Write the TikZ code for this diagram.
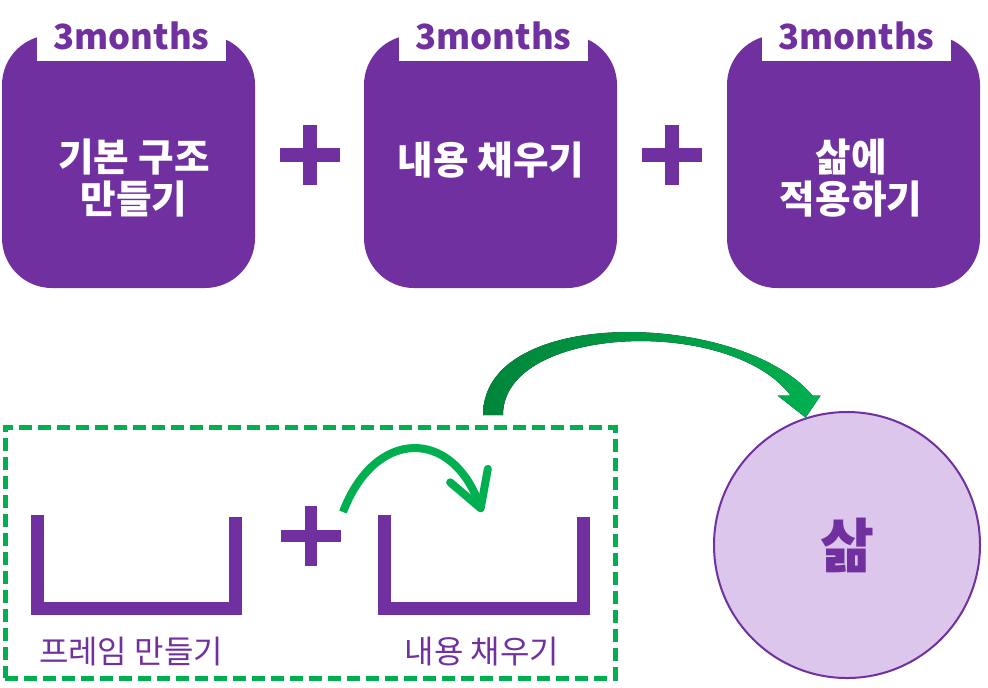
\documentclass[tikz,border=0pt]{standalone}
\usepackage{fontspec}
\setmainfont{Noto Sans CJK KR}
\usetikzlibrary{arrows.meta,calc,shapes}

\definecolor{purp}{HTML}{7030A0}
\definecolor{lifefill}{HTML}{DCC6EC}
\definecolor{grn}{HTML}{00B050}
\definecolor{grndark}{HTML}{00853A}

% plus sign: centre, half length, half thickness
\newcommand{\plusmark}[3]{%
	\fill[purp] ($#1+(-#2,-#3)$) rectangle ($#1+(#2,#3)$);
	\fill[purp] ($#1+(-#3,-#2)$) rectangle ($#1+(#3,#2)$);
}

\begin{document}
\begin{tikzpicture}[x=0.75pt,y=-0.75pt]
		\useasboundingbox (0,0) rectangle (988,687);
		\begin{scope}
			[
				styleStage/.style={
					fill=purp, rounded corners=37.5pt,
					minimum width=189.75pt, minimum height=189.75pt
					},
				styleTab/.style={fill=white, minimum width=141.75pt, minimum height=52pt},
				styleMonths/.style={text=purp, font=\bfseries\fontsize{26}{30}\selectfont},
				styleStageText/.style={text=white, align=center, font=\bfseries\fontsize{29}{32}\selectfont},
			]
			\node(base)[styleStage] at (128.5,161.5) {};
			\node(fill)[styleStage] at (490.5,161.5) {};
			\node(apply)[styleStage] at (853.5,161.5) {};

			\node(baseTab)[styleTab] at (131.5,26) {};
			\node(fillTab)[styleTab] at (493.5,26) {};
			\node(applyTab)[styleTab] at (856.5,26) {};

			\node(baseMonths)[styleMonths] at (131.5,36) {3months};
			\node(fillMonths)[styleMonths] at (493.5,36) {3months};
			\node(applyMonths)[styleMonths] at (856.5,36) {3months};

			\node(baseText)[styleStageText] at (134,178) {기본 구조\\만들기};
			\node(fillText)[styleStageText] at (491,160) {내용 채우기};
			\node(applyText)[styleStageText] at (851,178) {삶에\\적용하기};

			\plusmark{(310,155)}{30}{7}
			\plusmark{(672,155)}{30}{7}
		\end{scope}

		\begin{scope}
			[
				styleFrame/.style={draw=grn, line width=3.75pt, dash pattern=on 10pt off 4.25pt,
					minimum width=457.5pt, minimum height=188.25pt},
				styleBracket/.style={draw=purp, line width=9.75pt, line join=miter},
				styleLabel/.style={text=purp, font=\fontsize{24}{28}\selectfont},
				styleLife/.style={circle, draw=purp, line width=1.5pt, fill=lifefill,
					minimum size=199.5pt, text=purp, font=\bfseries\fontsize{44}{50}\selectfont},
				hop/.style={draw=grn, line width=6pt, -{Straight Barb[length=26pt,width=30pt,round]}},
				bigarrow/.style={left color=grndark, middle color=grn, right color=grn},
			]
			\node(frame)[styleFrame] at (310,552.5) {};

			\draw[styleBracket] (37,515) -- (37,608) -- (235,608) -- (235,517);
			\draw[styleBracket] (384,515) -- (384,608) -- (583,608) -- (583,517);
			\plusmark{(311,536)}{30}{6}

			\node(frameLabel)[styleLabel] at (131,651) {프레임 만들기};
			\node(fillLabel)[styleLabel] at (482,651) {내용 채우기};

			\node(life)[styleLife] at (847,545) {삶};

			\coordinate (hopStart) at (343,512);
			\coordinate (hopEnd) at (482,512);
			\draw[hop] (hopStart) .. controls (375,428) and (452,428) .. (hopEnd);

			\coordinate (bigFoot) at (493,415);
			\coordinate (bigTip) at (life.108);
			\fill[bigarrow] ($(bigFoot)+(-10,0)$) .. controls +(0,-110) and +(-72,-85) .. ($(bigTip)+(7,-22)$)
				-- ($(bigTip)+(15,-22)$) -- (bigTip) -- ($(bigTip)+(-28,-22)$) -- ($(bigTip)+(-15,-22)$)
				.. controls +(-60,-80) and +(0,-90) .. ($(bigFoot)+(10,0)$) -- cycle;
		\end{scope}
	\end{tikzpicture}
\end{document}
